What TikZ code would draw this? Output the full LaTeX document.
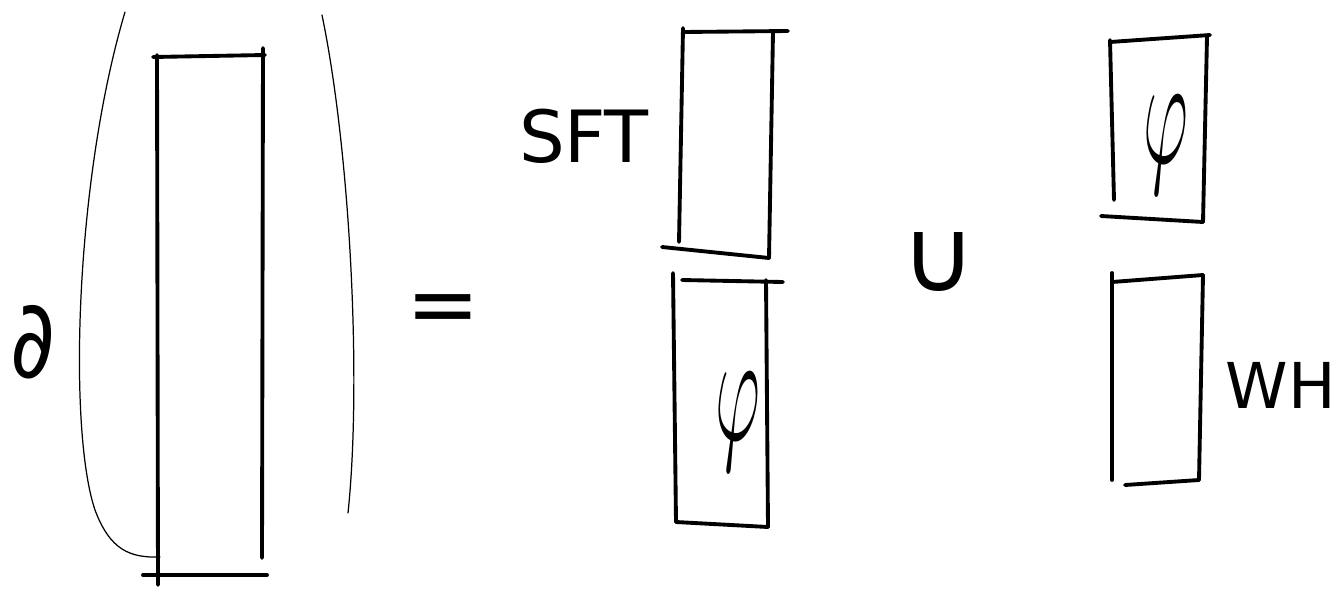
\documentclass[tikz,border=0pt]{standalone}
\usepackage{fontspec}
\setmainfont{DejaVu Sans}
\usetikzlibrary{positioning}
\tikzset{
  pen/.style={line width=2.2pt,line cap=round,line join=round},
  thinpen/.style={line width=0.7pt,line cap=round},
  glyph/.style={inner sep=0pt,font=\fontsize{#1}{#1}\selectfont},
}
\newcommand{\handphi}{\scalebox{1.6}[3.6]{\Huge$\varphi$}}

\begin{document}
\begin{tikzpicture}[x=0.02cm,y=-0.02cm]
  \useasboundingbox (0,0) rectangle (1342,592);

  % left hand side
  \node[glyph=62] (del) at (33,342) {\scalebox{0.8}[1]{∂}};
  \draw[thinpen] (125,12) .. controls (75,180) and (68,430) .. (95,510)
                 .. controls (110,550) and (130,558) .. (160,557);
  \draw[thinpen] (322,15) .. controls (350,150) and (362,380) .. (348,513);
  \draw[pen] (153,57) -- (265,55);
  \draw[pen] (157,55) -- (158,585);
  \draw[pen] (263,48) -- (262,558);
  \draw[pen] (143,575) -- (267,575);

  \node[glyph=50] (eq) at (443,315) {=};

  % middle column
  \node[glyph=41] (sft) at (584,136) {SFT};
  \draw[pen] (683,32) -- (788,31);
  \draw[pen] (683,28) -- (679,242);
  \draw[pen] (773,32) -- (769,258);
  \draw[pen] (662,247) -- (769,258);

  \draw[pen] (682,280) -- (783,282);
  \draw[pen] (673,273) -- (676,522);
  \draw[pen] (766,280) -- (768,527);
  \draw[pen] (676,522) -- (768,527);
  \node[inner sep=0pt] (phiA) at (738,422) {\handphi};

  \node[glyph=58] (cup) at (939,262) {∪};

  % right column
  \draw[pen] (1110,42) -- (1210,35);
  \draw[pen] (1110,40) -- (1114,200);
  \draw[pen] (1207,37) -- (1203,222);
  \draw[pen] (1101,216) -- (1203,222);
  \node[inner sep=0pt] (phiB) at (1166,145) {\handphi};

  \draw[pen] (1112,282) -- (1203,275);
  \draw[pen] (1112,273) -- (1112,480);
  \draw[pen] (1203,275) -- (1199,480);
  \draw[pen] (1125,485) -- (1199,480);
  \node[glyph=36] (wh) at (1281,385) {WH};
\end{tikzpicture}
\end{document}
